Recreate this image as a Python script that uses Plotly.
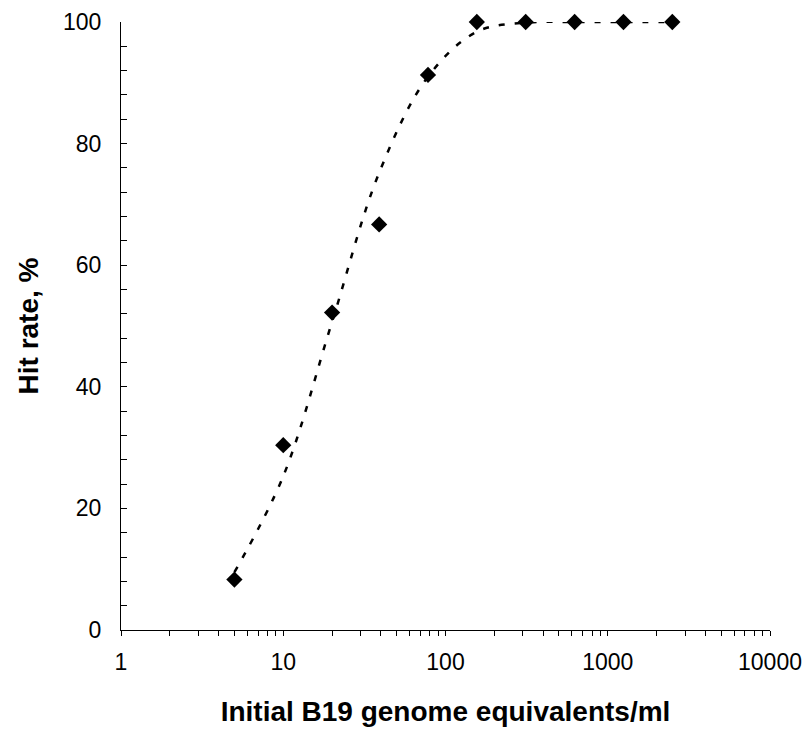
import plotly.graph_objects as go

# Initial B19 genome equivalents per ml (dilution series)
concentrations = [5, 10, 20, 39, 78, 156, 312, 625, 1250, 2500]
# Observed hit rate, %
hit_rate = [8.3, 30.4, 52.2, 66.7, 91.3, 100, 100, 100, 100, 100]
# Probit fit evaluated at each concentration, %
probit_fit = [9.5, 25.3, 50.7, 75.2, 91.0, 98.4, 99.9, 100, 100, 100]

x_tick_values = [1, 10, 100, 1000, 10000]
x_tick_labels = ["1", "10", "100", "1000", "10000"]

FONT = "Liberation Sans, Arial, sans-serif"

minor_x = [m * 10 ** k for k in range(4) for m in range(2, 10)]

fig = go.Figure()

fig.add_trace(go.Scatter(
    x=concentrations, y=probit_fit,
    mode="lines",
    line=dict(color="black", width=2.5, dash="6px,10px", shape="spline"),
    hoverinfo="skip",
    showlegend=False,
    cliponaxis=False,
))

fig.add_trace(go.Scatter(
    x=concentrations, y=hit_rate,
    mode="markers",
    marker=dict(symbol="diamond", size=12.5, color="black", line=dict(width=0)),
    showlegend=False,
    cliponaxis=False,
))

fig.update_layout(
    width=805, height=731,
    margin=dict(l=121, r=35, t=22, b=101),
    paper_bgcolor="white", plot_bgcolor="white",
    font=dict(family=FONT, size=23, color="black"),
)

fig.update_xaxes(
    type="log", range=[0, 4], automargin=False,
    tickvals=x_tick_values, ticktext=x_tick_labels,
    ticks="outside", ticklen=5, tickwidth=1, tickcolor="black",
    minor=dict(ticks="outside", ticklen=5, tickwidth=1, tickcolor="black",
               tickvals=minor_x, showgrid=False),
    showline=True, linecolor="black", linewidth=1,
    showgrid=False, zeroline=False,
    tickfont=dict(size=23),
    ticklabelstandoff=6,
    title=dict(text="<b>Initial B19 genome equivalents/ml</b>",
               font=dict(size=28), standoff=27),
)

fig.update_yaxes(
    range=[0, 100], dtick=20, tick0=0, automargin=False,
    ticks="inside", ticklen=6, tickwidth=1, tickcolor="black",
    minor=dict(ticks="inside", ticklen=6, tickwidth=1, tickcolor="black",
               dtick=4, showgrid=False),
    showline=True, linecolor="black", linewidth=1,
    showgrid=False, zeroline=False,
    tickfont=dict(size=23),
    ticklabelstandoff=14,
    title=dict(text="<b>Hit rate, %</b>", font=dict(size=28), standoff=16),
)

fig.write_html("out.html")
